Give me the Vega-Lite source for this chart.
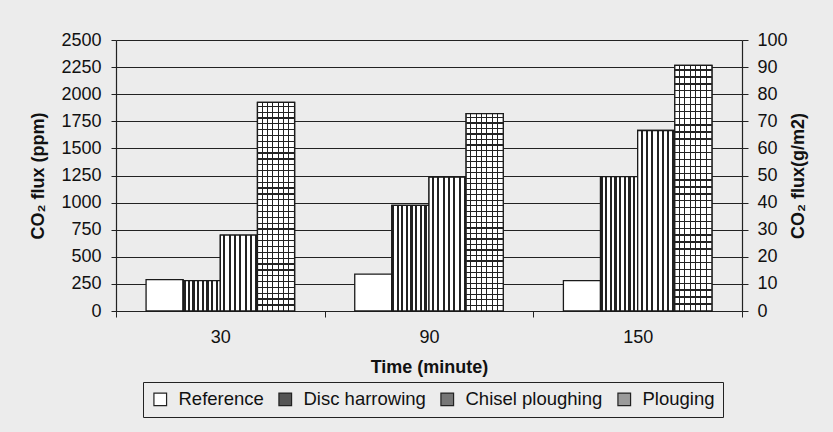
{
  "$schema": "https://vega.github.io/schema/vega-lite/v6.json",
  "width": 626,
  "height": 271,
  "autosize": {"type": "none"},
  "padding": {"left": 116, "top": 40, "right": 91, "bottom": 121},
  "background": "#ececec",
  "config": {
    "font": "Liberation Sans",
    "view": {"stroke": null},
    "axis": {
      "domainColor": "#222",
      "domainWidth": 1.2,
      "tickColor": "#222",
      "labelColor": "#111",
      "titleColor": "#111",
      "labelFont": "Liberation Sans",
      "titleFont": "Liberation Sans",
      "labelFontSize": 18,
      "titleFontSize": 18,
      "titleFontWeight": "bold",
      "gridColor": "#222"
    }
  },
  "data": {
    "values": [
      {"time": 30, "treatment": "Reference", "ppm": 290},
      {"time": 30, "treatment": "Disc harrowing", "ppm": 280},
      {"time": 30, "treatment": "Chisel ploughing", "ppm": 700},
      {"time": 30, "treatment": "Plouging", "ppm": 1925},
      {"time": 90, "treatment": "Reference", "ppm": 340},
      {"time": 90, "treatment": "Disc harrowing", "ppm": 975},
      {"time": 90, "treatment": "Chisel ploughing", "ppm": 1235},
      {"time": 90, "treatment": "Plouging", "ppm": 1820},
      {"time": 150, "treatment": "Reference", "ppm": 280},
      {"time": 150, "treatment": "Disc harrowing", "ppm": 1240},
      {"time": 150, "treatment": "Chisel ploughing", "ppm": 1665},
      {"time": 150, "treatment": "Plouging", "ppm": 2265}
    ]
  },
  "layer": [
    {
      "encoding": {
        "x": {
          "field": "time",
          "type": "ordinal",
          "scale": {"paddingInner": 0, "paddingOuter": 0},
          "axis": {
            "title": "Time (minute)",
            "labelAngle": 0,
            "ticks": true,
            "tickSize": 6,
            "tickBand": "extent",
            "labelPadding": 11,
            "titlePadding": 12,
            "grid": false
          }
        },
        "xOffset": {
          "field": "treatment",
          "type": "nominal",
          "sort": ["Reference", "Disc harrowing", "Chisel ploughing", "Plouging"],
          "scale": {"domain": ["Reference", "Disc harrowing", "Chisel ploughing", "Plouging"], "paddingInner": 0, "paddingOuter": 0.81}
        },
        "y": {
          "field": "ppm",
          "type": "quantitative",
          "scale": {"domain": [0, 2500], "nice": false},
          "axis": {
            "title": "CO₂ flux (ppm)",
            "values": [0, 250, 500, 750, 1000, 1250, 1500, 1750, 2000, 2250, 2500],
            "format": "d",
            "grid": true,
            "ticks": true,
            "tickSize": 5,
            "labelPadding": 10,
            "titleAngle": 270,
            "titlePadding": 13
          }
        }
      },
      "layer": [
        {
          "mark": {"type": "bar", "stroke": "#1a1a1a", "strokeWidth": 1.3},
          "encoding": {
            "color": {
              "field": "treatment",
              "type": "nominal",
              "sort": ["Reference", "Disc harrowing", "Chisel ploughing", "Plouging"],
              "scale": {
                "domain": ["Reference", "Disc harrowing", "Chisel ploughing", "Plouging"],
                "range": ["#ffffff", "#555555", "#767676", "#9a9a9a"]
              },
              "legend": {
                "title": null,
                "orient": "none",
                "direction": "horizontal",
                "legendX": 27,
                "legendY": 342,
                "strokeColor": "#222",
                "fillColor": "#ececec",
                "padding": 8,
                "symbolType": "square",
                "symbolSize": 160,
                "symbolStrokeColor": "#222",
                "symbolStrokeWidth": 1.2,
                "labelFont": "Liberation Sans",
                "labelFontSize": 18.5,
                "labelColor": "#111",
                "labelOffset": 9,
                "columnPadding": 12,
                "labelLimit": 300
              }
            }
          }
        },
        {
          "transform": [{"filter": "datum.treatment === 'Disc harrowing'"}],
          "mark": {
            "type": "bar", "stroke": "#1a1a1a", "strokeWidth": 1.3,
            "fill": {"gradient": "linear", "x1": 0, "y1": 0, "x2": 1, "y2": 0, "stops": [
              {"offset": 0, "color": "#222"}, {"offset": 0.0625, "color": "#222"}, {"offset": 0.0625, "color": "#fff"}, {"offset": 0.125, "color": "#fff"},
              {"offset": 0.125, "color": "#222"}, {"offset": 0.1875, "color": "#222"}, {"offset": 0.1875, "color": "#fff"}, {"offset": 0.25, "color": "#fff"},
              {"offset": 0.25, "color": "#222"}, {"offset": 0.3125, "color": "#222"}, {"offset": 0.3125, "color": "#fff"}, {"offset": 0.375, "color": "#fff"},
              {"offset": 0.375, "color": "#222"}, {"offset": 0.4375, "color": "#222"}, {"offset": 0.4375, "color": "#fff"}, {"offset": 0.5, "color": "#fff"},
              {"offset": 0.5, "color": "#222"}, {"offset": 0.5625, "color": "#222"}, {"offset": 0.5625, "color": "#fff"}, {"offset": 0.625, "color": "#fff"},
              {"offset": 0.625, "color": "#222"}, {"offset": 0.6875, "color": "#222"}, {"offset": 0.6875, "color": "#fff"}, {"offset": 0.75, "color": "#fff"},
              {"offset": 0.75, "color": "#222"}, {"offset": 0.8125, "color": "#222"}, {"offset": 0.8125, "color": "#fff"}, {"offset": 0.875, "color": "#fff"},
              {"offset": 0.875, "color": "#222"}, {"offset": 0.9375, "color": "#222"}, {"offset": 0.9375, "color": "#fff"}, {"offset": 1, "color": "#fff"}
            ]}
          }
        },
        {
          "transform": [{"filter": "datum.treatment === 'Chisel ploughing'"}],
          "mark": {
            "type": "bar", "stroke": "#1a1a1a", "strokeWidth": 1.3,
            "fill": {"gradient": "linear", "x1": 0, "y1": 0, "x2": 1, "y2": 0, "stops": [
              {"offset": 0, "color": "#fff"}, {"offset": 0.08, "color": "#fff"}, {"offset": 0.08, "color": "#222"}, {"offset": 0.137, "color": "#222"}, {"offset": 0.137, "color": "#fff"},
              {"offset": 0.223, "color": "#fff"}, {"offset": 0.223, "color": "#222"}, {"offset": 0.28, "color": "#222"}, {"offset": 0.28, "color": "#fff"},
              {"offset": 0.366, "color": "#fff"}, {"offset": 0.366, "color": "#222"}, {"offset": 0.423, "color": "#222"}, {"offset": 0.423, "color": "#fff"},
              {"offset": 0.509, "color": "#fff"}, {"offset": 0.509, "color": "#222"}, {"offset": 0.566, "color": "#222"}, {"offset": 0.566, "color": "#fff"},
              {"offset": 0.652, "color": "#fff"}, {"offset": 0.652, "color": "#222"}, {"offset": 0.709, "color": "#222"}, {"offset": 0.709, "color": "#fff"},
              {"offset": 0.795, "color": "#fff"}, {"offset": 0.795, "color": "#222"}, {"offset": 0.852, "color": "#222"}, {"offset": 0.852, "color": "#fff"},
              {"offset": 0.938, "color": "#fff"}, {"offset": 0.938, "color": "#222"}, {"offset": 0.995, "color": "#222"}, {"offset": 0.995, "color": "#fff"}, {"offset": 1, "color": "#fff"}
            ]}
          }
        },
        {
          "transform": [{"filter": "datum.treatment === 'Plouging'"}],
          "mark": {
            "type": "bar", "stroke": "#1a1a1a", "strokeWidth": 1.3,
            "fill": {"gradient": "linear", "x1": 0, "y1": 0, "x2": 1, "y2": 0, "stops": [
              {"offset": 0, "color": "#fff"}, {"offset": 0.115, "color": "#fff"}, {"offset": 0.115, "color": "#222"}, {"offset": 0.143, "color": "#222"}, {"offset": 0.143, "color": "#fff"},
              {"offset": 0.258, "color": "#fff"}, {"offset": 0.258, "color": "#222"}, {"offset": 0.286, "color": "#222"}, {"offset": 0.286, "color": "#fff"},
              {"offset": 0.401, "color": "#fff"}, {"offset": 0.401, "color": "#222"}, {"offset": 0.429, "color": "#222"}, {"offset": 0.429, "color": "#fff"},
              {"offset": 0.544, "color": "#fff"}, {"offset": 0.544, "color": "#222"}, {"offset": 0.572, "color": "#222"}, {"offset": 0.572, "color": "#fff"},
              {"offset": 0.687, "color": "#fff"}, {"offset": 0.687, "color": "#222"}, {"offset": 0.715, "color": "#222"}, {"offset": 0.715, "color": "#fff"},
              {"offset": 0.83, "color": "#fff"}, {"offset": 0.83, "color": "#222"}, {"offset": 0.858, "color": "#222"}, {"offset": 0.858, "color": "#fff"}, {"offset": 1, "color": "#fff"}
            ]}
          }
        },
        {
          "transform": [{"filter": "datum.treatment === 'Plouging'"}],
          "mark": {
            "type": "bar", "strokeWidth": 0,
            "fill": {"gradient": "linear", "x1": 0, "y1": 0, "x2": 0, "y2": 1, "stops": [
              {"offset": 0, "color": "rgba(0,0,0,0)"}, {"offset": 0.016, "color": "rgba(0,0,0,0)"}, {"offset": 0.016, "color": "#222"}, {"offset": 0.022, "color": "#222"}, {"offset": 0.022, "color": "rgba(0,0,0,0)"},
              {"offset": 0.044, "color": "rgba(0,0,0,0)"}, {"offset": 0.044, "color": "#222"}, {"offset": 0.05, "color": "#222"}, {"offset": 0.05, "color": "rgba(0,0,0,0)"},
              {"offset": 0.072, "color": "rgba(0,0,0,0)"}, {"offset": 0.072, "color": "#222"}, {"offset": 0.078, "color": "#222"}, {"offset": 0.078, "color": "rgba(0,0,0,0)"},
              {"offset": 0.1, "color": "rgba(0,0,0,0)"}, {"offset": 0.1, "color": "#222"}, {"offset": 0.106, "color": "#222"}, {"offset": 0.106, "color": "rgba(0,0,0,0)"},
              {"offset": 0.128, "color": "rgba(0,0,0,0)"}, {"offset": 0.128, "color": "#222"}, {"offset": 0.134, "color": "#222"}, {"offset": 0.134, "color": "rgba(0,0,0,0)"},
              {"offset": 0.156, "color": "rgba(0,0,0,0)"}, {"offset": 0.156, "color": "#222"}, {"offset": 0.162, "color": "#222"}, {"offset": 0.162, "color": "rgba(0,0,0,0)"},
              {"offset": 0.184, "color": "rgba(0,0,0,0)"}, {"offset": 0.184, "color": "#222"}, {"offset": 0.19, "color": "#222"}, {"offset": 0.19, "color": "rgba(0,0,0,0)"},
              {"offset": 0.212, "color": "rgba(0,0,0,0)"}, {"offset": 0.212, "color": "#222"}, {"offset": 0.218, "color": "#222"}, {"offset": 0.218, "color": "rgba(0,0,0,0)"},
              {"offset": 0.24, "color": "rgba(0,0,0,0)"}, {"offset": 0.24, "color": "#222"}, {"offset": 0.246, "color": "#222"}, {"offset": 0.246, "color": "rgba(0,0,0,0)"},
              {"offset": 0.268, "color": "rgba(0,0,0,0)"}, {"offset": 0.268, "color": "#222"}, {"offset": 0.274, "color": "#222"}, {"offset": 0.274, "color": "rgba(0,0,0,0)"},
              {"offset": 0.296, "color": "rgba(0,0,0,0)"}, {"offset": 0.296, "color": "#222"}, {"offset": 0.302, "color": "#222"}, {"offset": 0.302, "color": "rgba(0,0,0,0)"},
              {"offset": 0.324, "color": "rgba(0,0,0,0)"}, {"offset": 0.324, "color": "#222"}, {"offset": 0.33, "color": "#222"}, {"offset": 0.33, "color": "rgba(0,0,0,0)"},
              {"offset": 0.352, "color": "rgba(0,0,0,0)"}, {"offset": 0.352, "color": "#222"}, {"offset": 0.358, "color": "#222"}, {"offset": 0.358, "color": "rgba(0,0,0,0)"},
              {"offset": 0.38, "color": "rgba(0,0,0,0)"}, {"offset": 0.38, "color": "#222"}, {"offset": 0.386, "color": "#222"}, {"offset": 0.386, "color": "rgba(0,0,0,0)"},
              {"offset": 0.408, "color": "rgba(0,0,0,0)"}, {"offset": 0.408, "color": "#222"}, {"offset": 0.414, "color": "#222"}, {"offset": 0.414, "color": "rgba(0,0,0,0)"},
              {"offset": 0.436, "color": "rgba(0,0,0,0)"}, {"offset": 0.436, "color": "#222"}, {"offset": 0.442, "color": "#222"}, {"offset": 0.442, "color": "rgba(0,0,0,0)"},
              {"offset": 0.464, "color": "rgba(0,0,0,0)"}, {"offset": 0.464, "color": "#222"}, {"offset": 0.47, "color": "#222"}, {"offset": 0.47, "color": "rgba(0,0,0,0)"},
              {"offset": 0.492, "color": "rgba(0,0,0,0)"}, {"offset": 0.492, "color": "#222"}, {"offset": 0.498, "color": "#222"}, {"offset": 0.498, "color": "rgba(0,0,0,0)"},
              {"offset": 0.52, "color": "rgba(0,0,0,0)"}, {"offset": 0.52, "color": "#222"}, {"offset": 0.526, "color": "#222"}, {"offset": 0.526, "color": "rgba(0,0,0,0)"},
              {"offset": 0.548, "color": "rgba(0,0,0,0)"}, {"offset": 0.548, "color": "#222"}, {"offset": 0.554, "color": "#222"}, {"offset": 0.554, "color": "rgba(0,0,0,0)"},
              {"offset": 0.576, "color": "rgba(0,0,0,0)"}, {"offset": 0.576, "color": "#222"}, {"offset": 0.582, "color": "#222"}, {"offset": 0.582, "color": "rgba(0,0,0,0)"},
              {"offset": 0.604, "color": "rgba(0,0,0,0)"}, {"offset": 0.604, "color": "#222"}, {"offset": 0.61, "color": "#222"}, {"offset": 0.61, "color": "rgba(0,0,0,0)"},
              {"offset": 0.632, "color": "rgba(0,0,0,0)"}, {"offset": 0.632, "color": "#222"}, {"offset": 0.638, "color": "#222"}, {"offset": 0.638, "color": "rgba(0,0,0,0)"},
              {"offset": 0.66, "color": "rgba(0,0,0,0)"}, {"offset": 0.66, "color": "#222"}, {"offset": 0.666, "color": "#222"}, {"offset": 0.666, "color": "rgba(0,0,0,0)"},
              {"offset": 0.688, "color": "rgba(0,0,0,0)"}, {"offset": 0.688, "color": "#222"}, {"offset": 0.694, "color": "#222"}, {"offset": 0.694, "color": "rgba(0,0,0,0)"},
              {"offset": 0.716, "color": "rgba(0,0,0,0)"}, {"offset": 0.716, "color": "#222"}, {"offset": 0.722, "color": "#222"}, {"offset": 0.722, "color": "rgba(0,0,0,0)"},
              {"offset": 0.744, "color": "rgba(0,0,0,0)"}, {"offset": 0.744, "color": "#222"}, {"offset": 0.75, "color": "#222"}, {"offset": 0.75, "color": "rgba(0,0,0,0)"},
              {"offset": 0.772, "color": "rgba(0,0,0,0)"}, {"offset": 0.772, "color": "#222"}, {"offset": 0.778, "color": "#222"}, {"offset": 0.778, "color": "rgba(0,0,0,0)"},
              {"offset": 0.8, "color": "rgba(0,0,0,0)"}, {"offset": 0.8, "color": "#222"}, {"offset": 0.806, "color": "#222"}, {"offset": 0.806, "color": "rgba(0,0,0,0)"},
              {"offset": 0.828, "color": "rgba(0,0,0,0)"}, {"offset": 0.828, "color": "#222"}, {"offset": 0.834, "color": "#222"}, {"offset": 0.834, "color": "rgba(0,0,0,0)"},
              {"offset": 0.856, "color": "rgba(0,0,0,0)"}, {"offset": 0.856, "color": "#222"}, {"offset": 0.862, "color": "#222"}, {"offset": 0.862, "color": "rgba(0,0,0,0)"},
              {"offset": 0.884, "color": "rgba(0,0,0,0)"}, {"offset": 0.884, "color": "#222"}, {"offset": 0.89, "color": "#222"}, {"offset": 0.89, "color": "rgba(0,0,0,0)"},
              {"offset": 0.912, "color": "rgba(0,0,0,0)"}, {"offset": 0.912, "color": "#222"}, {"offset": 0.918, "color": "#222"}, {"offset": 0.918, "color": "rgba(0,0,0,0)"},
              {"offset": 0.94, "color": "rgba(0,0,0,0)"}, {"offset": 0.94, "color": "#222"}, {"offset": 0.946, "color": "#222"}, {"offset": 0.946, "color": "rgba(0,0,0,0)"},
              {"offset": 0.968, "color": "rgba(0,0,0,0)"}, {"offset": 0.968, "color": "#222"}, {"offset": 0.974, "color": "#222"}, {"offset": 0.974, "color": "rgba(0,0,0,0)"},
              {"offset": 1, "color": "rgba(0,0,0,0)"}
            ]}
          }
        }
      ]
    },
    {
      "mark": {"type": "rule", "opacity": 0},
      "encoding": {
        "y": {
          "datum": 0,
          "type": "quantitative",
          "scale": {"domain": [0, 100], "nice": false},
          "axis": {
            "orient": "right",
            "title": "CO₂ flux(g/m2)",
            "values": [0, 10, 20, 30, 40, 50, 60, 70, 80, 90, 100],
            "grid": false,
            "ticks": true,
            "tickSize": 6,
            "labelPadding": 9,
            "titleAngle": 270,
            "titlePadding": 20
          }
        }
      }
    }
  ],
  "resolve": {"scale": {"y": "independent"}, "axis": {"y": "independent"}}
}
